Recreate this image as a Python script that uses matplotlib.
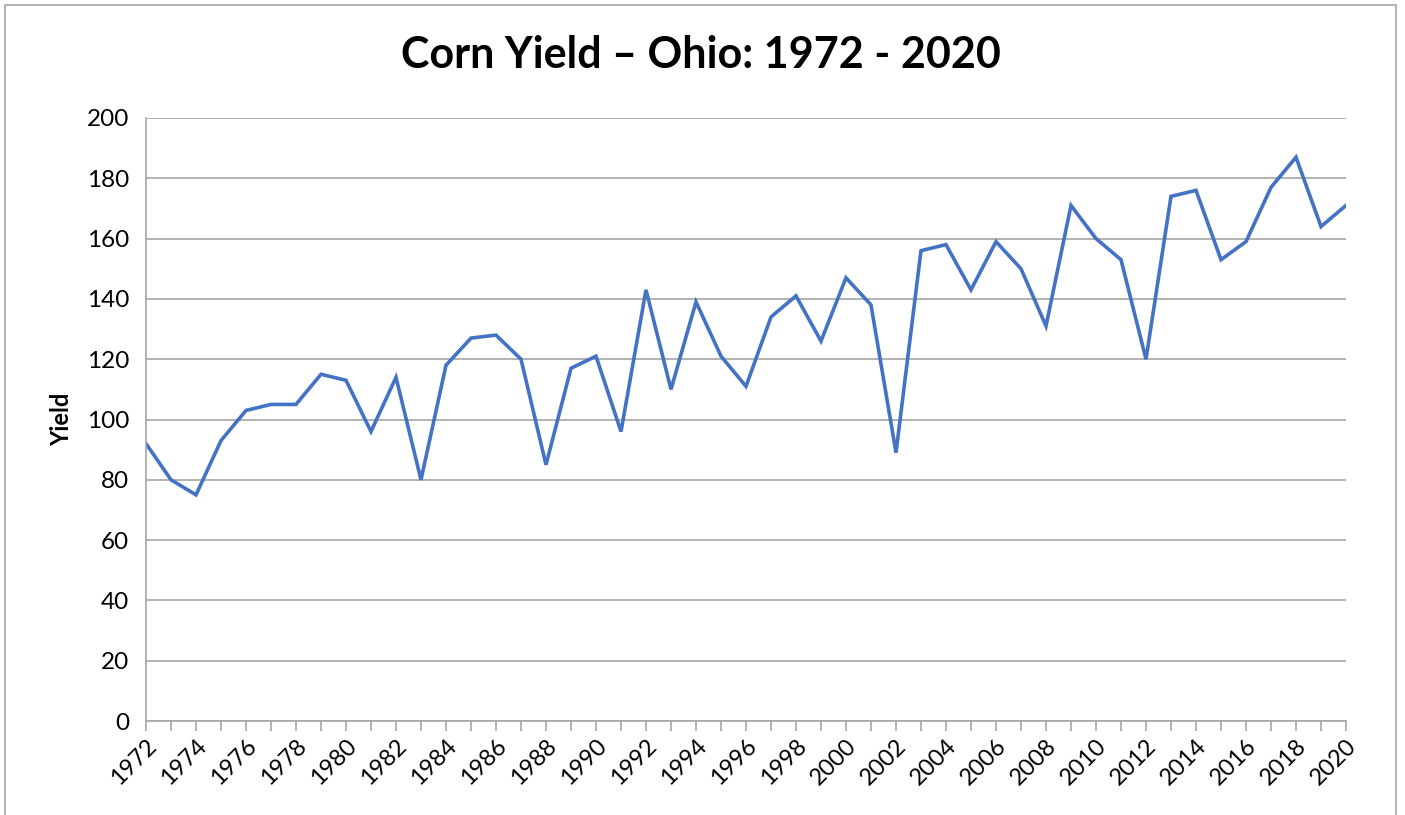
import matplotlib
matplotlib.use("Agg")
import matplotlib.pyplot as plt
from matplotlib.patches import Rectangle
from matplotlib.ticker import MultipleLocator

years = list(range(1972, 2021))
yields = [92, 80, 75, 93, 103, 105, 105, 115, 113, 96,
          114, 80, 118, 127, 128, 120, 85, 117, 121, 96,
          143, 110, 139, 121, 111, 134, 141, 126, 147, 138,
          89, 156, 158, 143, 159, 150, 131, 171, 160, 153,
          120, 174, 176, 153, 159, 177, 187, 164, 171]
title = "Corn Yield \u2013 Ohio: 1972 - 2020"
ylabel = "Yield"

plt.rcParams['font.family'] = ['Lato', 'DejaVu Sans']

W, H = 1405, 815
fig = plt.figure(figsize=(W / 100, H / 100), dpi=100)
ax = fig.add_axes([146 / W, 1 - 721 / H, (1346 - 146) / W, (721 - 118) / H])

ax.plot(years, yields, color='#4472C4', lw=2.6, solid_joinstyle='miter')
ax.set_xlim(1972, 2020)
ax.set_ylim(0, 200)
ax.yaxis.set_major_locator(MultipleLocator(20))
ax.xaxis.set_major_locator(MultipleLocator(2))
ax.xaxis.set_minor_locator(MultipleLocator(1))
ax.grid(axis='y', color='#a6a6a6', lw=1.2)
ax.set_axisbelow(True)
for s in ['top', 'right']:
    ax.spines[s].set_visible(False)
for s in ['left', 'bottom']:
    ax.spines[s].set_color('#a6a6a6')
    ax.spines[s].set_linewidth(1.2)
ax.tick_params(axis='y', length=0, pad=12, labelsize=17.5)
ax.tick_params(axis='x', which='both', length=7, color='#a6a6a6', width=1.2,
               labelsize=17, pad=3)
ax.tick_params(axis='x', which='minor', labelbottom=False)
ax.set_xticks(years[::2])
ax.set_xticklabels([str(y) for y in years[::2]], rotation=45, ha='right',
                   rotation_mode='anchor')
ax.set_ylabel(ylabel, fontsize=17, fontweight='bold', labelpad=10)
fig.text(701 / W, 1 - 55 / H, title, fontsize=31, fontweight='bold',
         ha='center', va='center')

fig.patches.append(Rectangle((5 / W, -0.05), (1396 - 5) / W, 1.05 - 5 / H,
                             transform=fig.transFigure, fill=False,
                             edgecolor='#a6a6a6', lw=1.2))
fig.savefig('out.png', dpi=100)
